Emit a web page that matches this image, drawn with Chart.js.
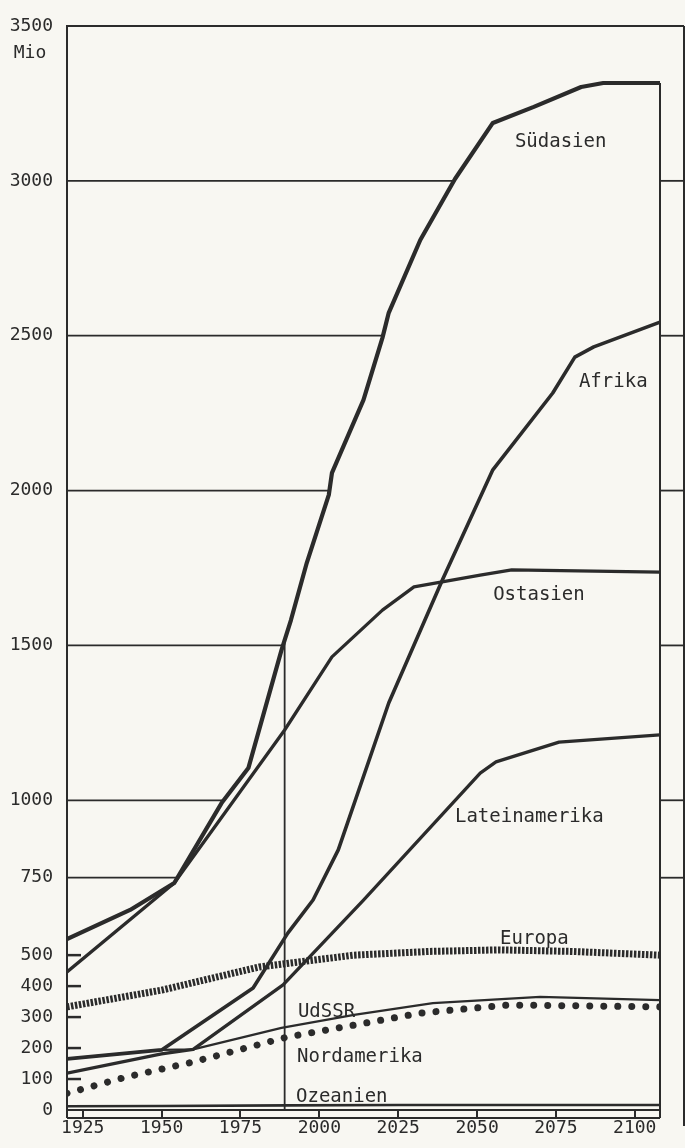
<!DOCTYPE html>
<html>
<head>
<meta charset="utf-8">
<script src="https://cdn.jsdelivr.net/npm/chart.js@4.4.1/dist/chart.umd.min.js"></script>
<style>
    html, body { margin: 0; padding: 0; background: #f8f7f2; }
    #wrap { width: 685px; height: 1148px; }
</style>
</head>
<body>
<div id="wrap"><canvas id="chart" width="685" height="1148"></canvas></div>
<script>
/* Bevölkerungsprojektion nach Regionen (Mio) */

// Axes
const xTickYears = [1925, 1950, 1975, 2000, 2025, 2050, 2075, 2100];
const yTickValues = [0, 100, 200, 300, 400, 500, 750, 1000, 1500, 2000, 2500, 3000, 3500];
const gridValues = [750, 1000, 1500, 2000, 2500, 3000];
const minorTickValues = [100, 200, 300, 400, 500];
const markerYear = 1989;

// Series (years / millions)
const sudasienYears  = [1920, 1940, 1954, 1969, 1977.5, 1988, 1991, 1996, 2003, 2004, 2014, 2020, 2022, 2032, 2043, 2055, 2068, 2083, 2090, 2108];
const sudasienValues = [552, 646, 733, 991, 1104, 1485, 1582, 1766, 1986, 2057, 2293, 2493, 2574, 2809, 3006, 3187, 3239, 3303, 3316, 3316];

const afrikaYears  = [1920, 1950, 1979, 1990, 1998, 2006, 2022, 2039, 2055, 2074, 2081, 2087, 2108];
const afrikaValues = [165, 194, 394, 571, 678, 840, 1314, 1711, 2067, 2315, 2431, 2464, 2544];

const ostasienYears  = [1920, 1954, 1989, 2004, 2020, 2030, 2051, 2061, 2108];
const ostasienValues = [446, 733, 1227, 1463, 1614, 1689, 1727, 1744, 1737];

const lateinamerikaYears  = [1920, 1950, 1960, 1988.5, 2014, 2051, 2056, 2076, 2108];
const lateinamerikaValues = [119, 181, 196, 404, 678, 1088, 1124, 1188, 1211];

const europaYears  = [1920, 1950, 1981, 2011, 2035, 2057, 2080, 2108];
const europaValues = [333, 387, 462, 500, 512, 517, 512, 500];

const udssrYears  = [1920, 1950, 1960, 1988, 2011, 2036, 2070, 2108];
const udssrValues = [165, 194, 196, 265, 307, 345, 365, 355];

const nordamerikaYears  = [1920, 1939, 1960, 1990, 2011, 2032, 2060, 2108];
const nordamerikaValues = [54, 107, 155, 236, 274, 313, 339, 333];

const ozeanienYears  = [1920, 1950, 1990, 2025, 2060, 2108];
const ozeanienValues = [12, 13, 15, 16, 16, 16];

// Region names and where their names sit (year, value of text baseline)
const labelNames  = ['Südasien', 'Afrika', 'Ostasien', 'Lateinamerika', 'Europa', 'UdSSR', 'Nordamerika', 'Ozeanien'];
const labelYears  = [2062, 2082.3, 2055.1, 2043, 2057.3, 1993.2, 1992.9, 1992.6];
const labelValues = [3109, 2335, 1647, 930, 536, 300, 155, 27];

const INK = '#2b2b2b';
const PAPER = '#f8f7f2';
const FONT = '"DejaVu Sans Mono", monospace';

function toPoints(years, values) {
    return years.map((yr, i) => ({ x: yr, y: values[i] }));
}

function crossYear(years, values, v) {
    for (let i = 1; i < values.length; i++) {
        if (values[i] >= v) {
            const t = (v - values[i - 1]) / (values[i] - values[i - 1]);
            return years[i - 1] + t * (years[i] - years[i - 1]);
        }
    }
    return years[years.length - 1];
}

function valueAt(years, values, yr) {
    for (let i = 1; i < years.length; i++) {
        if (years[i] >= yr) {
            const t = (yr - years[i - 1]) / (years[i] - years[i - 1]);
            return values[i - 1] + t * (values[i] - values[i - 1]);
        }
    }
    return values[values.length - 1];
}

function seg(ctx, x1, y1, x2, y2) {
    ctx.beginPath();
    ctx.moveTo(x1, y1);
    ctx.lineTo(x2, y2);
    ctx.stroke();
}

const framePlugin = {
    id: 'frame',
    beforeDraw(chart) {
        const ctx = chart.ctx;
        ctx.save();
        ctx.fillStyle = PAPER;
        ctx.fillRect(0, 0, chart.width, chart.height);
        ctx.restore();
    },
    beforeDatasetsDraw(chart) {
        const { ctx, chartArea: a, scales: { x, y } } = chart;
        const outer = a.right + 24;
        ctx.save();
        ctx.strokeStyle = INK;
        ctx.lineCap = 'butt';

        // horizontal lines stop where Südasien crosses them
        ctx.lineWidth = 1.8;
        gridValues.forEach(v => {
            const py = y.getPixelForValue(v);
            const px = x.getPixelForValue(crossYear(sudasienYears, sudasienValues, v));
            seg(ctx, a.left, py, px, py);
            seg(ctx, a.right, py, outer, py);
        });

        // short ticks on the left axis
        ctx.lineWidth = 2.5;
        minorTickValues.forEach(v => {
            const py = y.getPixelForValue(v);
            seg(ctx, a.left, py, a.left + 14, py);
        });

        // "today" line
        ctx.lineWidth = 1.8;
        const mx = x.getPixelForValue(markerYear);
        seg(ctx, mx, a.bottom, mx, y.getPixelForValue(valueAt(sudasienYears, sudasienValues, markerYear)));

        // frame
        ctx.lineWidth = 2;
        seg(ctx, a.left, a.top, outer, a.top);
        seg(ctx, a.right, y.getPixelForValue(sudasienValues[sudasienValues.length - 1]), a.right, a.bottom + 8);
        seg(ctx, outer, a.top, outer, a.bottom + 16);
        seg(ctx, a.left, a.bottom + 8, a.right, a.bottom + 8);
        seg(ctx, a.left, a.bottom, a.left, a.bottom + 8);
        ctx.restore();
    },
    afterDatasetsDraw(chart) {
        const { ctx, chartArea: a, scales: { x, y } } = chart;
        ctx.save();
        ctx.fillStyle = INK;
        ctx.textBaseline = 'alphabetic';
        ctx.textAlign = 'left';
        ctx.font = '19px ' + FONT;
        labelNames.forEach((name, i) => {
            ctx.fillText(name, x.getPixelForValue(labelYears[i]), y.getPixelForValue(labelValues[i]));
        });

        // unit under the top tick
        ctx.font = '18px ' + FONT;
        ctx.textAlign = 'center';
        ctx.textBaseline = 'middle';
        ctx.fillText('Mio', a.left - 37, y.getPixelForValue(3500) + 27);
        ctx.restore();
    }
};

const lineStyle = {
    fill: false,
    pointRadius: 0,
    tension: 0,
    borderColor: INK,
    borderJoinStyle: 'round'
};

new Chart(document.getElementById('chart').getContext('2d'), {
    type: 'line',
    data: {
        datasets: [
            { ...lineStyle, label: 'Südasien', data: toPoints(sudasienYears, sudasienValues), borderWidth: 4.2 },
            { ...lineStyle, label: 'Afrika', data: toPoints(afrikaYears, afrikaValues), borderWidth: 3.6 },
            { ...lineStyle, label: 'Ostasien', data: toPoints(ostasienYears, ostasienValues), borderWidth: 3.3 },
            { ...lineStyle, label: 'Lateinamerika', data: toPoints(lateinamerikaYears, lateinamerikaValues), borderWidth: 3.3 },
            { ...lineStyle, label: 'Europa', data: toPoints(europaYears, europaValues), borderWidth: 7, borderDash: [2.5, 1.5] },
            { ...lineStyle, label: 'UdSSR', data: toPoints(udssrYears, udssrValues), borderWidth: 2.3 },
            { ...lineStyle, label: 'Nordamerika', data: toPoints(nordamerikaYears, nordamerikaValues), borderWidth: 7, borderDash: [0.01, 14], borderCapStyle: 'round' },
            { ...lineStyle, label: 'Ozeanien', data: toPoints(ozeanienYears, ozeanienValues), borderWidth: 2.6 }
        ]
    },
    options: {
        responsive: false,
        animation: false,
        devicePixelRatio: 1,
        layout: { padding: { top: 26, right: 25, left: 0, bottom: 0 } },
        plugins: {
            legend: { display: false },
            tooltip: { enabled: false }
        },
        scales: {
            x: {
                type: 'linear',
                min: 1920,
                max: 2108,
                afterBuildTicks: scale => { scale.ticks = xTickYears.map(v => ({ value: v })); },
                afterFit: scale => { scale.height = 38; },
                grid: { drawOnChartArea: false, drawTicks: true, tickLength: 8, color: INK, lineWidth: 2 },
                border: { display: true, color: INK, width: 2 },
                ticks: {
                    autoSkip: false,
                    maxRotation: 0,
                    padding: 0,
                    color: INK,
                    font: { family: FONT, size: 18 },
                    callback: v => String(v)
                }
            },
            y: {
                type: 'linear',
                min: 0,
                max: 3500,
                afterBuildTicks: scale => { scale.ticks = yTickValues.map(v => ({ value: v })); },
                afterFit: scale => { scale.width = 67; },
                grid: { display: false },
                border: { display: true, color: INK, width: 2 },
                ticks: {
                    padding: 6,
                    color: INK,
                    font: { family: FONT, size: 18 },
                    callback: v => String(v)
                }
            }
        }
    },
    plugins: [framePlugin]
});
</script>
</body>
</html>
